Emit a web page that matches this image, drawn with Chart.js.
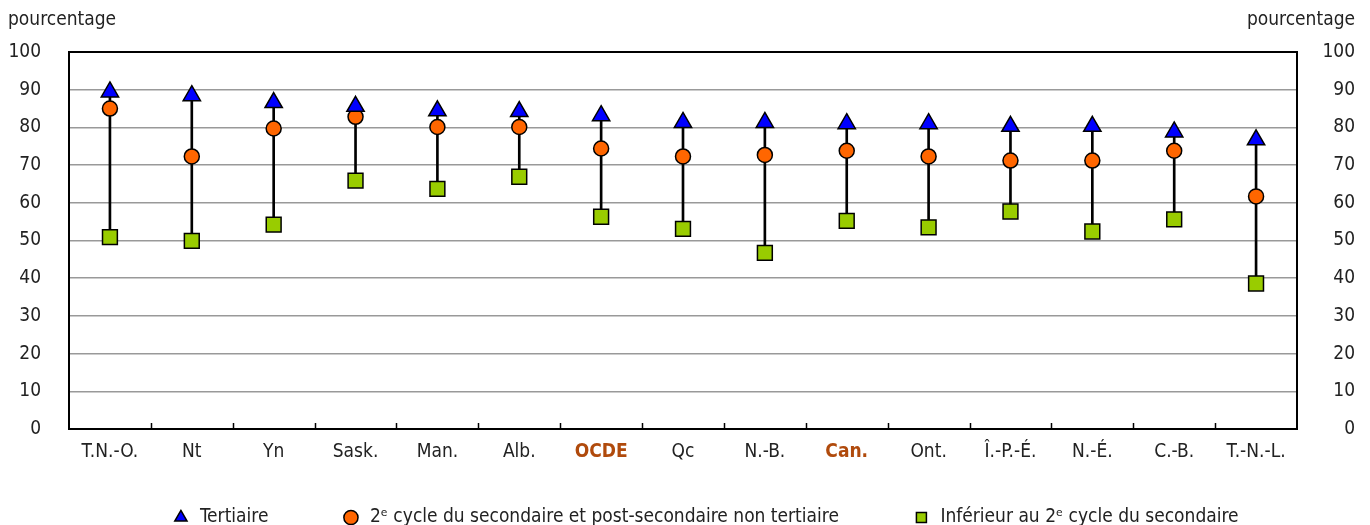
<!DOCTYPE html>
<html>
<head>
<meta charset="utf-8">
<script src="https://cdn.jsdelivr.net/npm/chart.js@4.4.0/dist/chart.umd.min.js"></script>
<style>
  html, body { margin: 0; padding: 0; background: #fff; }
  #wrap { width: 1370px; height: 525px; }
</style>
</head>
<body>
<div id="wrap"><canvas id="chart" width="1370" height="525"></canvas></div>
<script>
const categories = ['T.N.-O.', 'Nt', 'Yn', 'Sask.', 'Man.', 'Alb.', 'OCDE', 'Qc', 'N.-B.', 'Can.', 'Ont.', 'Î.-P.-É.', 'N.-É.', 'C.-B.', 'T.-N.-L.'];
const tertiaire = [89.4, 88.4, 86.6, 85.6, 84.4, 84.2, 83.1, 81.3, 81.3, 81.0, 81.0, 80.3, 80.3, 78.8, 76.7];
const secondaire = [85.0, 72.3, 79.7, 82.8, 80.1, 80.1, 74.4, 72.3, 72.7, 73.8, 72.3, 71.2, 71.2, 73.8, 61.7];
const inferieur = [50.9, 49.9, 54.2, 65.9, 63.7, 66.9, 56.3, 53.1, 46.7, 55.2, 53.5, 57.7, 52.4, 55.6, 38.6];
const yTicks = [0, 10, 20, 30, 40, 50, 60, 70, 80, 90, 100];
const highlighted = ['OCDE', 'Can.'];

const FONT = '"Liberation Sans Narrow", "DejaVu Sans Condensed", "Arial Narrow", sans-serif';

// les etiquettes debordent de la boite de l'axe : pas de decoupage
function noClip(s) {
    s._computeLabelArea = () => undefined;
}

// cadre, petites graduations et titres "pourcentage"
const extras = {
    id: 'extras',
    afterDatasetsDraw(chart) {
        const ctx = chart.ctx;
        const a = chart.chartArea;
        const x = chart.scales.x;
        ctx.save();
        ctx.strokeStyle = '#000';
        ctx.lineWidth = 1.5;
        for (let i = 1; i < categories.length; i++) {
            const px = Math.round((x.getPixelForTick(i - 1) + x.getPixelForTick(i)) / 2) + 0.5;
            ctx.beginPath();
            ctx.moveTo(px, a.bottom);
            ctx.lineTo(px, a.bottom - 6);
            ctx.stroke();
        }
        ctx.lineWidth = 2;
        ctx.strokeRect(a.left, a.top, a.right - a.left, a.bottom - a.top);
        ctx.fillStyle = '#222';
        ctx.font = '19px ' + FONT;
        ctx.textBaseline = 'middle';
        ctx.textAlign = 'left';
        ctx.fillText('pourcentage', 8, 20);
        ctx.textAlign = 'right';
        ctx.fillText('pourcentage', 1355, 20);
        ctx.restore();
    }
};

const ctx = document.getElementById('chart');
new Chart(ctx, {
    data: {
        labels: categories,
        datasets: [
            {
                type: 'line',
                label: 'Tertiaire',
                data: tertiaire,
                showLine: false,
                pointStyle: 'triangle',
                pointRadius: 10,
                pointBackgroundColor: '#0000FF',
                pointBorderColor: '#000',
                pointBorderWidth: 1.5,
                backgroundColor: '#0000FF',
                borderColor: '#000',
                order: 1
            },
            {
                type: 'line',
                label: '2ᵉ cycle du secondaire et post-secondaire non tertiaire',
                data: secondaire,
                showLine: false,
                pointStyle: 'circle',
                pointRadius: 7.5,
                pointBackgroundColor: '#FF6600',
                pointBorderColor: '#000',
                pointBorderWidth: 1.5,
                backgroundColor: '#FF6600',
                borderColor: '#000',
                order: 2
            },
            {
                type: 'line',
                label: 'Inférieur au 2ᵉ cycle du secondaire',
                data: inferieur,
                showLine: false,
                pointStyle: 'rect',
                pointRadius: 10.5,
                pointBackgroundColor: '#99CC00',
                pointBorderColor: '#000',
                pointBorderWidth: 1.5,
                backgroundColor: '#99CC00',
                borderColor: '#000',
                order: 3
            },
            {
                type: 'bar',
                label: 'ecart',
                data: categories.map((c, i) => [inferieur[i], tertiaire[i]]),
                backgroundColor: '#000',
                barThickness: 2,
                order: 10
            }
        ]
    },
    options: {
        responsive: false,
        animation: false,
        layout: { padding: { top: 52, left: 55, right: 15, bottom: -12 } },
        plugins: {
            tooltip: { enabled: false },
            legend: {
                position: 'bottom',
                labels: {
                    filter: item => item.text !== 'ecart',
                    usePointStyle: true,
                    boxHeight: 10,
                    padding: 73,
                    color: '#222',
                    font: { family: FONT, size: 19 }
                }
            }
        },
        scales: {
            x: {
                offset: true,
                grid: { display: false },
                border: { display: false },
                afterFit: s => { s.height = 6; noClip(s); },
                ticks: {
                    padding: 4,
                    maxRotation: 0,
                    autoSkip: false,
                    color: c => highlighted.includes(categories[c.index]) ? '#B04A0C' : '#222',
                    font: c => ({ family: FONT, size: 19, weight: highlighted.includes(categories[c.index]) ? 'bold' : 'normal' })
                }
            },
            y: {
                position: 'left',
                min: 0,
                max: 100,
                afterBuildTicks: s => { s.ticks = yTicks.map(v => ({ value: v })); },
                afterFit: s => { s.width = 14; noClip(s); },
                grid: {
                    drawTicks: false,
                    color: c => (c.tick.value === 0 || c.tick.value === 100) ? 'rgba(0,0,0,0)' : '#999',
                    lineWidth: 1.5
                },
                border: { display: false },
                ticks: { padding: 28, color: '#222', font: { family: FONT, size: 19 } }
            },
            y2: {
                position: 'right',
                min: 0,
                max: 100,
                afterBuildTicks: s => { s.ticks = yTicks.map(v => ({ value: v })); },
                afterFit: s => { s.width = 58; noClip(s); },
                grid: { display: false, drawTicks: false },
                border: { display: false },
                ticks: { padding: 25, crossAlign: 'far', color: '#222', font: { family: FONT, size: 19 } }
            }
        }
    },
    plugins: [extras]
});
</script>
</body>
</html>
